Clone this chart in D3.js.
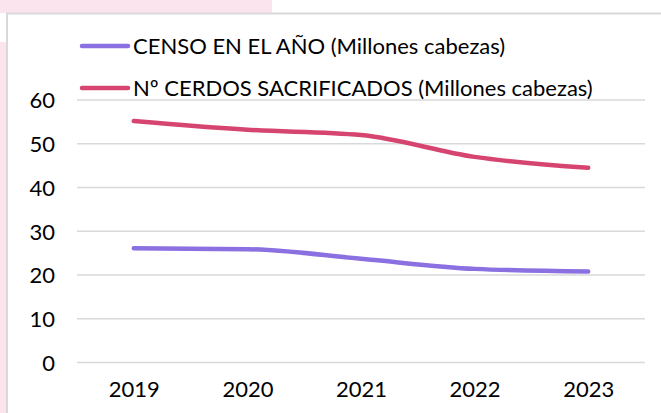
<!DOCTYPE html>
<html>
<head>
<meta charset="utf-8">
<script src="https://cdn.jsdelivr.net/npm/d3@7"></script>
<style>
  body { margin: 0; background: #fff; }
  svg { display: block; font-family: Lato, "Open Sans", sans-serif; }
</style>
</head>
<body>
<div id="chart"></div>
<script>
var years = ["2019", "2020", "2021", "2022", "2023"];
var censo = [26.1, 25.9, 23.7, 21.4, 20.8];
var sacrificados = [55.2, 53.2, 52.0, 47.0, 44.5];
var yTicks = [0, 10, 20, 30, 40, 50, 60];
var seriesNames = ["CENSO EN EL AÑO (Millones cabezas)", "Nº CERDOS SACRIFICADOS (Millones cabezas)"];
var colors = ["#8a70e0", "#d6456f"];

var width = 661, height = 413;

var svg = d3.select("#chart").append("svg")
  .attr("width", width)
  .attr("height", height);

// pink page background peeking out behind the chart box
svg.append("rect").attr("x", 0).attr("y", 0).attr("width", 272).attr("height", 13).attr("fill", "#fce4ee");
svg.append("rect").attr("x", 0).attr("y", 42).attr("width", 6).attr("height", height - 42).attr("fill", "#fce4ee");

// chart box border
svg.append("line").attr("x1", 6).attr("x2", width).attr("y1", 13.5).attr("y2", 13.5)
  .attr("stroke", "#d9d9d9").attr("stroke-width", 2);
svg.append("line").attr("x1", 7).attr("x2", 7).attr("y1", 13).attr("y2", height)
  .attr("stroke", "#d9d9d9").attr("stroke-width", 2);

var x = d3.scalePoint().domain(years).range([77, 645]).padding(0.5);
var y = d3.scaleLinear().domain([0, 60]).range([362.5, 100]);

//gridlines
svg.append("g").selectAll("line")
  .data(yTicks)
  .enter().append("line")
  .attr("x1", 77).attr("x2", 645)
  .attr("y1", d => y(d)).attr("y2", d => y(d))
  .attr("stroke", "#d9d9d9").attr("stroke-width", 1.5);

//y axis labels
var yAxis = svg.append("g")
  .attr("transform", "translate(55,0)")
  .call(d3.axisLeft(y).tickValues(yTicks).tickSize(0).tickPadding(0));
yAxis.select(".domain").remove();
yAxis.selectAll("text")
  .attr("font-size", 22).attr("font-family", "Lato, sans-serif").attr("fill", "#000")
  .attr("dy", "0.36em");

//x axis labels
var xAxis = svg.append("g")
  .attr("transform", "translate(0,397)")
  .call(d3.axisBottom(x).tickSize(0).tickPadding(0));
xAxis.select(".domain").remove();
xAxis.selectAll("text")
  .attr("font-size", 22).attr("font-family", "Lato, sans-serif").attr("fill", "#000")
  .attr("y", 0).attr("dy", 0);

//lines
var line = d3.line()
  .x((d, i) => x(years[i]))
  .y(d => y(d))
  .curve(d3.curveMonotoneX);

[censo, sacrificados].forEach(function (s, i) {
  svg.append("path")
    .datum(s)
    .attr("d", line)
    .attr("fill", "none")
    .attr("stroke", colors[i])
    .attr("stroke-width", 4.5)
    .attr("stroke-linecap", "round")
    .attr("stroke-linejoin", "round");
});

//legend
var legend = svg.append("g").selectAll("g")
  .data(seriesNames)
  .enter().append("g")
  .attr("transform", (d, i) => "translate(0," + (46 + i * 42) + ")");
legend.append("line")
  .attr("x1", 82).attr("x2", 128)
  .attr("y1", 0).attr("y2", 0)
  .attr("stroke", (d, i) => colors[i])
  .attr("stroke-width", 4.5)
  .attr("stroke-linecap", "round");
legend.append("text")
  .attr("x", 133).attr("y", 0).attr("dy", "0.36em")
  .attr("font-size", 22)
  .attr("fill", "#000")
  .text(d => d);
</script>
</body>
</html>
